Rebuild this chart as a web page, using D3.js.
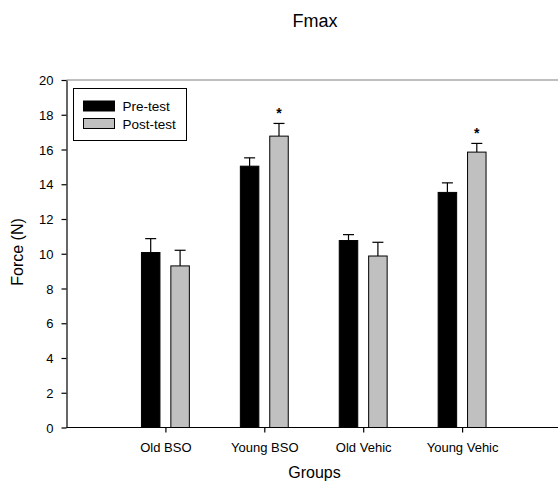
<!DOCTYPE html>
<html>
<head>
<meta charset="utf-8">
<script src="https://cdn.jsdelivr.net/npm/d3@7"></script>
<style>
  body { margin: 0; background: #fff; }
  svg { display: block; font-family: "Liberation Sans", Arial, sans-serif; }
</style>
</head>
<body>
<svg id="chart" width="559" height="485"></svg>
<script>
// data
const groups = ["Old BSO", "Young BSO", "Old Vehic", "Young Vehic"];
const series = ["Pre-test", "Post-test"];
const preTest = [10.07, 15.04, 10.76, 13.53];
const postTest = [9.3, 16.77, 9.87, 15.85];
const preErr = [0.8, 0.48, 0.34, 0.55];
const postErr = [0.9, 0.73, 0.79, 0.5];
const postSig = [false, true, false, true];
const yTicks = [0, 2, 4, 6, 8, 10, 12, 14, 16, 18, 20];

const svg = d3.select("#chart");
const mLeft = 66.5, mRight = 561, mTop = 80, mBottom = 427.5;

const x = d3.scalePoint().domain(groups).range([mLeft, mRight]).padding(1);
const y = d3.scaleLinear().domain([0, 20]).range([mBottom, mTop]);
const off = d3.scaleOrdinal().domain(series).range([-14.7, 14.7]);
const fill = d3.scaleOrdinal().domain(series).range(["#000000", "#c0c0c0"]);
const barW = 18.5;

// top frame line
svg.append("line")
  .attr("x1", mLeft).attr("x2", 558).attr("y1", mTop).attr("y2", mTop)
  .attr("stroke", "#808080").attr("stroke-width", 1.2);

const rows = [];
groups.forEach((g, i) => {
  rows.push({ g, s: "Pre-test", v: preTest[i], e: preErr[i], sig: false });
  rows.push({ g, s: "Post-test", v: postTest[i], e: postErr[i], sig: postSig[i] });
});

// error bars (upward only)
const eb = svg.append("g").attr("stroke", "#000").attr("stroke-width", 1.2);
rows.forEach(d => {
  const cx = x(d.g) + off(d.s);
  eb.append("line").attr("x1", cx).attr("x2", cx).attr("y1", y(d.v)).attr("y2", y(d.v + d.e));
  eb.append("line").attr("x1", cx - 5.5).attr("x2", cx + 5.5).attr("y1", y(d.v + d.e)).attr("y2", y(d.v + d.e));
});

svg.append("g").selectAll("rect").data(rows).join("rect")
  .attr("x", d => x(d.g) + off(d.s) - barW / 2)
  .attr("y", d => y(d.v))
  .attr("width", barW)
  .attr("height", d => y(0) - y(d.v))
  .attr("fill", d => fill(d.s))
  .attr("stroke", "#000").attr("stroke-width", 1);

// significance stars
svg.append("g").selectAll("text").data(rows.filter(d => d.sig)).join("text")
  .attr("x", d => x(d.g) + off(d.s))
  .attr("y", d => y(d.v + d.e) - 5.5)
  .attr("text-anchor", "middle")
  .attr("font-size", 14).attr("font-weight", "bold")
  .text("*");

// axes
const yAxis = svg.append("g").attr("transform", `translate(${mLeft},0)`)
  .call(d3.axisLeft(y).tickValues(yTicks).tickSize(5).tickSizeOuter(0));
const xAxis = svg.append("g").attr("transform", `translate(0,${mBottom})`)
  .call(d3.axisBottom(x).tickSize(5).tickSizeOuter(0));
[yAxis, xAxis].forEach(a => {
  a.selectAll("path,line").attr("stroke", "#000").attr("stroke-width", 1.2);
  a.selectAll("text").attr("font-size", 13).attr("fill", "#000")
    .attr("font-family", "Liberation Sans, Arial, sans-serif");
});
xAxis.select(".domain").attr("d", `M${mLeft},0H558`);
yAxis.selectAll("text").attr("x", -13).attr("dy", "0.35em");
xAxis.selectAll("text").attr("y", 15);

// titles
svg.append("text").attr("x", 315).attr("y", 27).attr("text-anchor", "middle")
  .attr("font-size", 18).text("Fmax");
svg.append("text").attr("x", 314.5).attr("y", 478).attr("text-anchor", "middle")
  .attr("font-size", 16).text("Groups");
svg.append("text").attr("transform", "translate(23,252) rotate(-90)")
  .attr("text-anchor", "middle").attr("font-size", 16).text("Force (N)");

// legend
const lg = svg.append("g");
lg.append("rect").attr("x", 73.5).attr("y", 88.5).attr("width", 113).attr("height", 52)
  .attr("fill", "#fff").attr("stroke", "#000").attr("stroke-width", 1);
series.forEach((s, i) => {
  const yy = 101 + i * 17.5;
  lg.append("rect").attr("x", 83.5).attr("y", yy).attr("width", 31).attr("height", 10)
    .attr("fill", fill(s)).attr("stroke", "#000").attr("stroke-width", 1);
  lg.append("text").attr("x", 122.5).attr("y", yy + 10).attr("font-size", 13.5).text(s);
});
</script>
</body>
</html>
